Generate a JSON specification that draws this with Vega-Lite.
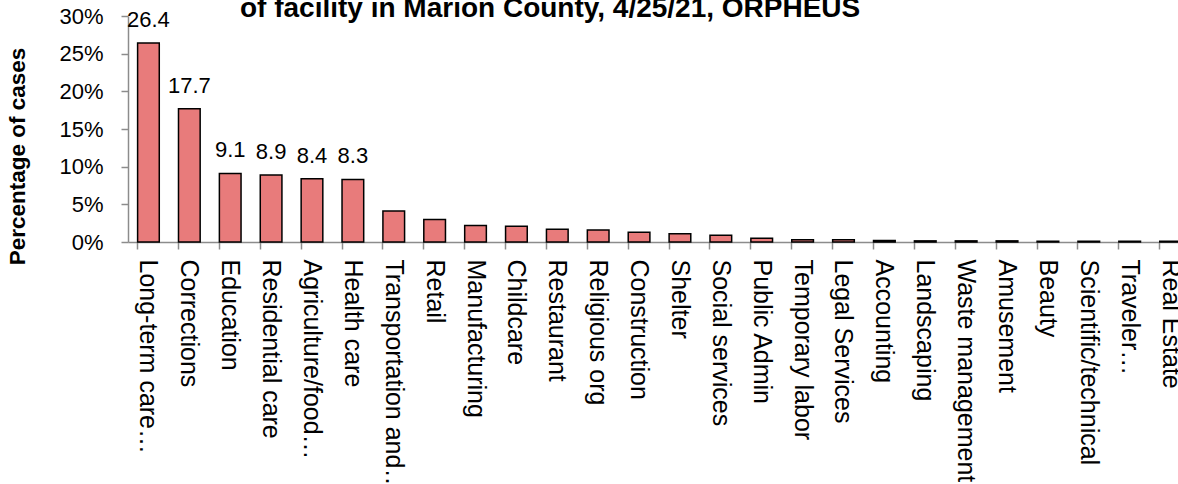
{
  "$schema": "https://vega.github.io/schema/vega-lite/v6.json",
  "autosize": "none",
  "width": 1050,
  "height": 226,
  "padding": {"left": 128, "top": 16, "right": 0, "bottom": 242},
  "background": "white",
  "title": {
    "text": "of facility in Marion County, 4/25/21, ORPHEUS",
    "anchor": "start",
    "frame": "group",
    "dx": 112,
    "offset": -40,
    "baseline": "alphabetic",
    "font": "Liberation Sans",
    "fontSize": 28,
    "fontWeight": "bold",
    "color": "black"
  },
  "config": {
    "view": {"stroke": null},
    "font": "Liberation Sans"
  },
  "data": {
    "values": [
      {"sector": "Long-term care…", "value": 26.4, "lab": "26.4"},
      {"sector": "Corrections", "value": 17.7, "lab": "17.7"},
      {"sector": "Education", "value": 9.1, "lab": "9.1"},
      {"sector": "Residential care", "value": 8.9, "lab": "8.9"},
      {"sector": "Agriculture/food…", "value": 8.4, "lab": "8.4"},
      {"sector": "Health care", "value": 8.3, "lab": "8.3"},
      {"sector": "Transportation and…", "value": 4.1, "lab": ""},
      {"sector": "Retail", "value": 3.0, "lab": ""},
      {"sector": "Manufacturing", "value": 2.2, "lab": ""},
      {"sector": "Childcare", "value": 2.1, "lab": ""},
      {"sector": "Restaurant", "value": 1.7, "lab": ""},
      {"sector": "Religious org", "value": 1.6, "lab": ""},
      {"sector": "Construction", "value": 1.3, "lab": ""},
      {"sector": "Shelter", "value": 1.1, "lab": ""},
      {"sector": "Social services", "value": 0.9, "lab": ""},
      {"sector": "Public Admin", "value": 0.5, "lab": ""},
      {"sector": "Temporary labor", "value": 0.3, "lab": ""},
      {"sector": "Legal Services", "value": 0.3, "lab": ""},
      {"sector": "Accounting", "value": 0.2, "lab": ""},
      {"sector": "Landscaping", "value": 0.15, "lab": ""},
      {"sector": "Waste management", "value": 0.15, "lab": ""},
      {"sector": "Amusement", "value": 0.15, "lab": ""},
      {"sector": "Beauty", "value": 0.1, "lab": ""},
      {"sector": "Scientific/technical", "value": 0.1, "lab": ""},
      {"sector": "Traveler…", "value": 0.1, "lab": ""},
      {"sector": "Real Estate", "value": 0.1, "lab": ""}
    ]
  },
  "encoding": {
    "y": {
      "field": "value",
      "type": "quantitative",
      "scale": {"domain": [0, 30], "nice": false},
      "axis": {
        "title": "Percentage of cases",
        "titleFontSize": 22.5,
        "titleFontWeight": "bold",
        "titleColor": "black",
        "titleX": -111,
        "titleY": 140,
        "titleAngle": -90,
        "titleAlign": "center",
        "titleBaseline": "middle",
        "values": [0, 5, 10, 15, 20, 25, 30],
        "labelExpr": "datum.value + '%'",
        "labelFontSize": 22,
        "labelColor": "black",
        "labelPadding": 18,
        "labelOverlap": false,
        "tickSize": 7,
        "tickColor": "#8c8c8c",
        "tickWidth": 1.5,
        "domainColor": "#8c8c8c",
        "domainWidth": 1.5,
        "grid": false
      }
    }
  },
  "layer": [
    {
      "mark": {"type": "bar", "fill": "#E87B7B", "stroke": "black", "strokeWidth": 1.5},
      "encoding": {
        "x": {
          "field": "sector",
          "type": "nominal",
          "sort": null,
          "scale": {"range": [0, 1063], "paddingInner": 0.47, "paddingOuter": 0.235},
          "axis": {
            "title": null,
            "orient": "bottom",
            "labelAngle": 90,
            "labelAlign": "left",
            "labelBaseline": "middle",
            "labelPadding": 17,
            "labelFontSize": 25,
            "labelColor": "black",
            "labelLimit": 400,
            "labelOverlap": false,
            "ticks": false,
            "domainColor": "#8c8c8c",
            "domainWidth": 1.5
          }
        }
      }
    },
    {
      "mark": {"type": "text", "baseline": "alphabetic", "dy": -16, "fontSize": 22, "color": "black"},
      "encoding": {
        "x": {
          "field": "sector",
          "type": "nominal",
          "sort": null,
          "axis": {
            "title": null,
            "orient": "bottom",
            "labels": false,
            "domain": false,
            "bandPosition": 0,
            "tickSize": 7,
            "tickColor": "#8c8c8c",
            "tickWidth": 1.5
          }
        },
        "text": {"field": "lab"}
      }
    }
  ],
  "resolve": {"axis": {"x": "independent"}}
}
